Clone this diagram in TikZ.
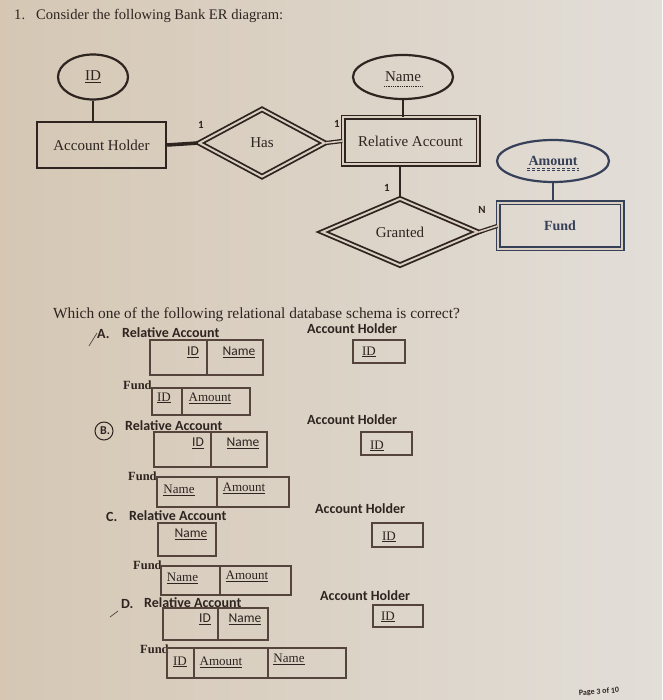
\documentclass[tikz,border=0pt]{standalone}
\usepackage{fontspec}
\setmainfont{Liberation Serif}
\newfontfamily\calfont{Carlito}
\usetikzlibrary{shapes.geometric}
\definecolor{ink}{RGB}{46,36,32}
\definecolor{boxink}{RGB}{84,68,60}
\definecolor{slate}{RGB}{54,64,88}
\definecolor{paperL}{RGB}{213,199,180}
\definecolor{paperR}{RGB}{226,222,216}
\definecolor{paperM}{RGB}{218,207,192}
\tikzset{
  erfont/.style={font=\fontsize{15}{18}\selectfont, text=ink},
  attr/.style={ellipse, draw=ink, line width=2.2pt, inner sep=0pt, erfont},
  ent/.style={rectangle, draw=ink, line width=2.4pt, inner sep=0pt, erfont},
  weakent/.style={rectangle, draw=ink, double=paperM, double distance=2pt, line width=1.5pt, inner sep=0pt, erfont},
  rel/.style={diamond, draw=ink, double=paperM, double distance=2pt, line width=1.8pt, inner sep=0pt, erfont},
  conn/.style={draw=ink, line width=2.6pt},
  dconn/.style={draw=ink, double=paperM, double distance=1.6pt, line width=1.3pt},
  card/.style={font=\calfont\bfseries\fontsize{11}{13}\selectfont, text=ink, inner sep=0pt},
  title/.style={font=\fontsize{14.6}{17}\selectfont, text=ink, inner sep=0pt, anchor=base west},
  head/.style={font=\calfont\bfseries\fontsize{14}{16}\selectfont, text=ink, inner sep=0pt, anchor=base west},
  fundlbl/.style={font=\bfseries\fontsize{12.5}{15}\selectfont, text=ink, inner sep=0pt, anchor=base west},
  cellS/.style={font=\fontsize{13}{15}\selectfont, text=ink, inner sep=0pt},
  cellC/.style={font=\calfont\fontsize{13.5}{16}\selectfont, text=ink, inner sep=0pt},
  tbl/.style={draw=boxink, line width=1.4pt},
}
\begin{document}
\begin{tikzpicture}[x=1pt, y=-1pt]
\useasboundingbox (0,0) rectangle (662,700);
\shade[left color=paperL, right color=paperR] (0,0) rectangle (662,700);

% title
\node[title] (num) at (14,20) {1.};
\node[title] (ttl) at (36,20) {Consider the following Bank ER diagram:};

% ER diagram
\node[attr, minimum width=70pt, minimum height=45pt] (idE) at (93,77) {\underline{ID}};
\node[ent, minimum width=129pt, minimum height=46pt] (ah) at (101.5,145) {Account Holder};
\node[rel, minimum width=126pt, minimum height=68pt] (has) at (262,143) {Has};
\node[weakent, minimum width=135pt, minimum height=47pt] (ra) at (410.5,141) {Relative Account};
\node[attr, minimum width=100pt, minimum height=44pt] (nameE) at (403,77) {Name};
\node[rel, minimum width=156pt, minimum height=67pt] (gr) at (400,232) {Granted};
\node[weakent, draw=slate, minimum width=124pt, minimum height=46pt, text=slate, font=\bfseries\fontsize{14}{17}\selectfont] (fund) at (560,226) {Fund};
\node[attr, draw=slate, text=slate, minimum width=112pt, minimum height=42pt, font=\bfseries\fontsize{14}{17}\selectfont] (amtE) at (553,161) {Amount};

\draw[ink, densely dotted, line width=0.8pt] (384,86) -- (422,86);
\draw[slate, densely dashed, line width=0.7pt] (527,168) -- (579,168);
\draw[slate, densely dashed, line width=0.7pt] (527,170.5) -- (579,170.5);

\draw[conn] (idE.south) -- (idE.south |- ah.north);
\draw[conn, line width=3.6pt] (ah.east) -- (has.west);
\draw[dconn] (has.east) -- (ra.west);
\draw[conn] (nameE.south) -- (nameE.south |- ra.north);
\draw[conn] (gr.north |- ra.south) -- (gr.north);
\draw[dconn] (gr.east) -- (fund.west);
\draw[conn, slate] (amtE.south) -- (amtE.south |- fund.north);

\node[card] (c1) at (201,125) {1};
\node[card] (c2) at (337,124) {1};
\node[card] (c3) at (387,188) {1};
\node[card] (cN) at (482,210) {N};

% question
\node[title, font=\fontsize{15.4}{18}\selectfont] (q) at (53,318) {Which one of the following relational database schema is correct?};

% option A
\draw[boxink, line width=0.7pt] (89,346) -- (97,333);
\node[head] (lA) at (97,338) {A.};
\node[head] (raA) at (122,337) {Relative Account};
\node[head] (ahA) at (307,333) {Account Holder};
\draw[tbl] (150,340) rectangle (263,375); \draw[tbl] (207,340) -- (207,375);
\node[cellC] (raA1) at (193,352) {\underline{ID}};
\node[cellC] (raA2) at (239,352) {\underline{Name}};
\draw[tbl] (353,340) rectangle (405,363);
\node[cellS] (ahA1) at (369,352) {\underline{ID}};
\node[fundlbl] (fA) at (123,389) {Fund};
\draw[tbl] (152,388) rectangle (250,415); \draw[tbl] (182,388) -- (182,415);
\node[cellS] (fA1) at (164,398) {\underline{ID}};
\node[cellS] (fA2) at (210,398) {\underline{Amount}};

% option B
\draw[ink, line width=1pt] (104,431) circle (9);
\node[font=\calfont\bfseries\fontsize{12}{14}\selectfont, text=ink, inner sep=0pt] (lB) at (105,431) {B.};
\node[head] (raB) at (125,430) {Relative Account};
\node[head] (ahB) at (307,424) {Account Holder};
\draw[tbl] (154,432) rectangle (267,467); \draw[tbl] (211,432) -- (211,467);
\node[cellC] (raB1) at (198,443) {\underline{ID}};
\node[cellC] (raB2) at (243,443) {\underline{Name}};
\draw[tbl] (361,432) rectangle (412,455);
\node[cellS] (ahB1) at (377,446) {\underline{ID}};
\node[fundlbl] (fB) at (128,480) {Fund};
\draw[tbl] (157,477) rectangle (289,507); \draw[tbl] (217,477) -- (217,507);
\node[cellS] (fB1) at (179,490) {\underline{Name}};
\node[cellS] (fB2) at (244,488) {\underline{Amount}};

% option C
\node[head] (lC) at (106,521) {C.};
\node[head] (raC) at (129,520) {Relative Account};
\node[head] (ahC) at (315,513) {Account Holder};
\draw[tbl] (158,523) rectangle (216,556);
\node[cellC] (raC1) at (191,534) {\underline{Name}};
\draw[tbl] (372,523) rectangle (423,547);
\node[cellS] (ahC1) at (389,537) {\underline{ID}};
\node[fundlbl] (fC) at (133,569) {Fund};
\draw[tbl] (161,566) rectangle (291,595); \draw[tbl] (220,566) -- (220,595);
\node[cellS] (fC1) at (182.5,578) {\underline{Name}};
\node[cellS] (fC2) at (247,576) {\underline{Amount}};

% option D
\draw[boxink, line width=0.7pt] (110,617) -- (118,611);
\node[head] (lD) at (121,608) {D.};
\node[head] (raD) at (144,607) {Relative Account};
\node[head] (ahD) at (320,600) {Account Holder};
\draw[tbl] (163,608) rectangle (268,640); \draw[tbl] (218,608) -- (218,640);
\node[cellC] (raD1) at (205,619) {\underline{ID}};
\node[cellC] (raD2) at (245,619) {\underline{Name}};
\draw[tbl] (373,605) rectangle (423,627);
\node[cellS] (ahD1) at (388,617) {\underline{ID}};
\node[fundlbl] (fD) at (140,653) {Fund};
\draw[tbl] (167,648) rectangle (346,678); \draw[tbl] (194,648) -- (194,678); \draw[tbl] (268,648) -- (268,678);
\node[cellS] (fD1) at (180,662) {\underline{ID}};
\node[cellS] (fD2) at (221,662) {\underline{Amount}};
\node[cellS] (fD3) at (289,659) {\underline{Name}};

% page number
\node[font=\calfont\bfseries\fontsize{8}{10}\selectfont, text=ink, rotate=4, inner sep=0pt] (pg) at (599,692) {Page 3 of 10};
\end{tikzpicture}
\end{document}
